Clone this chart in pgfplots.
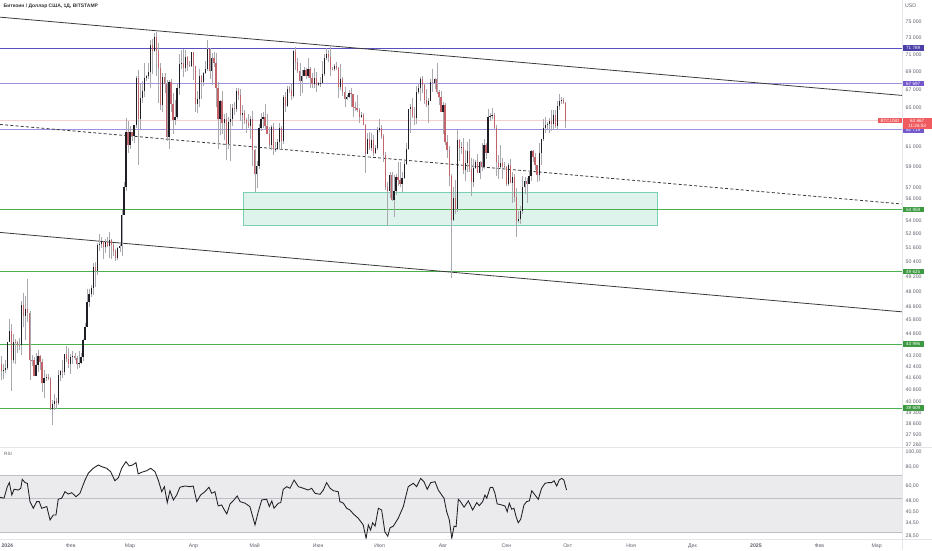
\documentclass[border=0pt]{standalone}
\usepackage{pgfplots}
\pgfplotsset{compat=1.18}
\usepackage{pgfplotstable}
\usepackage{fontspec}
\setmainfont{Liberation Sans}
\definecolor{bull}{HTML}{1E1E24}
\definecolor{bear}{HTML}{C4646A}
\definecolor{wick}{HTML}{A8A8AE}
\definecolor{trend}{HTML}{3A3A3A}
\definecolor{purpD}{HTML}{5A4FC0}
\definecolor{purpL}{HTML}{9D90DE}
\definecolor{tagPD}{HTML}{4A40A8}
\definecolor{tagP}{HTML}{7458CC}
\definecolor{grn}{HTML}{4CAF50}
\definecolor{tagG}{HTML}{3D9A41}
\definecolor{zoneF}{HTML}{DDF3EC}
\definecolor{zoneL}{HTML}{7ACFB6}
\definecolor{tagR}{HTML}{EF5B5F}
\definecolor{pline}{HTML}{F6D0D1}
\definecolor{scale}{HTML}{5D606B}
\definecolor{sep}{HTML}{E3E5EB}
\definecolor{band}{HTML}{EBEBED}
\definecolor{bandl}{HTML}{BDBFC6}
\newcommand\tf{\fontsize{5.2}{6}\selectfont}
\newcommand\tg{\fontsize{4.6}{5}\selectfont}

\pgfplotstableread{
d o h l c
-3 42580 43130 41450 42070
-2 42070 42600 41520 42140
-1 42140 42890 41970 42280
0 42280 44180 42200 44180
1 44180 45900 44150 44950
2 44950 45500 40750 42850
3 42850 44760 42630 44180
4 44180 44350 42600 44160
5 44160 44220 43400 43970
6 43970 44480 43600 43930
7 43930 47230 43200 46970
8 46970 47900 45250 46120
9 46120 47650 44330 46660
10 46660 48970 45650 46340
11 46340 46500 41500 42850
12 42850 43250 42450 42840
13 42840 43050 41720 41730
14 41730 43390 41720 42510
15 42510 43570 42060 43150
16 43150 43200 42200 42740
17 42740 42930 40680 41260
18 41260 42170 40270 41620
19 41620 41870 41420 41660
20 41660 41860 41500 41570
21 41570 41650 39450 39520
22 39520 40130 38500 39850
23 39850 40520 39500 40080
24 40080 40280 39530 39930
25 39930 42200 39820 41810
26 41810 42200 41400 42120
27 42120 42840 41630 42030
28 42030 43310 41800 43300
29 43300 43880 42700 42940
30 42940 43750 42300 42570
31 42570 43280 41880 43080
32 43080 43480 42600 43180
33 43180 43380 42880 43010
34 43010 43120 42270 42580
35 42580 43520 42320 42660
36 42660 43400 42580 43090
37 43090 44380 42770 44330
38 44330 45600 44330 45300
39 45300 48170 45240 47150
40 47150 48170 46800 47770
41 47770 48560 47560 48290
42 48290 50330 47700 49960
43 49960 50370 48350 49700
44 49700 52040 49300 51800
45 51800 52820 51330 51940
46 51940 52570 51620 52160
47 52160 52200 50660 51660
48 51660 52350 51170 52120
49 52120 52490 51700 51780
50 51780 52960 50700 52260
51 52260 52370 50670 51850
52 51850 52020 50920 51320
53 51320 51540 50510 50730
54 50730 51690 50580 51570
55 51570 51960 51280 51730
56 51730 54920 50920 54480
57 54480 57560 54440 57050
58 57050 64000 56700 62500
59 62500 63680 60400 61190
60 61190 63150 60800 62440
61 62440 62450 61600 62030
62 62030 63200 61340 63170
63 63170 68600 62880 68330
64 68330 69200 59200 63800
65 63800 67640 62800 66100
66 66100 67990 65570 66900
67 66900 69990 66200 68300
68 68300 68630 67980 68500
69 68500 70000 68250 69020
70 69020 72800 67200 72120
71 72120 72920 68800 71480
72 71480 73650 71340 73080
73 73080 73780 68600 71400
74 71400 72400 65600 69430
75 69430 70050 64800 65300
76 65300 68850 64600 68390
77 68390 68900 66600 67610
78 67610 68100 61600 61930
79 61930 68100 60780 67860
80 67860 68200 64600 65490
81 65490 66600 62300 63780
82 63780 65900 63250 64060
83 64060 67600 63800 67230
84 67230 71100 66400 69960
85 69960 71500 69300 69990
86 69990 71700 68400 69450
87 69450 71500 68950 70780
88 70780 70900 69100 69860
89 69860 70300 69600 69640
90 69640 71330 69600 71330
91 71330 71330 68100 69700
92 69700 69700 64600 65450
93 65450 66900 64500 65980
94 65980 69300 65080 68500
95 68500 68700 66000 67840
96 67840 69000 67450 68900
97 68900 70300 68800 69360
98 69360 72750 69100 71620
99 71620 71750 68200 69140
100 69140 71200 67500 70590
101 70590 71300 69570 70060
102 70060 71250 65100 67200
103 67200 67900 60800 63820
104 63820 65850 62150 65740
105 65740 66900 62300 63420
106 63420 64350 61700 63810
107 63810 64450 59700 61280
108 61280 64100 60800 63510
109 63510 65450 59600 63840
110 63840 65400 63100 64990
111 64990 65700 64300 64930
112 64930 67200 64550 66840
113 66840 67200 65850 66410
114 66410 67050 63650 64290
115 64290 65300 62800 64500
116 64500 64800 63300 63760
117 63760 63920 62400 63420
118 63420 64350 62850 63110
119 63110 64200 61800 63840
120 63840 64700 59100 60640
121 60640 60800 56550 58250
122 58250 59600 56950 59120
123 59120 63300 58800 62890
124 62890 64500 62600 63890
125 63890 64600 62900 64030
126 64030 65500 62750 63160
127 63160 64400 62300 62330
128 62330 62990 60900 61190
129 61190 63250 60650 63050
130 63050 63450 60200 60790
131 60790 61450 60500 60800
132 60800 61800 60650 61460
133 61460 63400 60800 62900
134 62900 63100 60800 61550
135 61550 66400 61300 66260
136 66260 66700 64600 65230
137 65230 67400 65100 67050
138 67050 67400 66650 66940
139 66940 67650 65850 66270
140 66270 71500 66100 71450
141 71450 71950 69200 70140
142 70140 70650 68850 69120
143 69120 70050 66300 67930
144 67930 69200 66650 68530
145 68530 69550 68500 69260
146 69260 69500 68250 68500
147 68500 70600 68300 69390
148 69390 69550 67250 68360
149 68360 68900 67150 67630
150 67630 69500 67150 68350
151 68350 69000 66700 67490
152 67490 67850 67450 67710
153 67710 68400 67300 67750
154 67750 70250 67600 68800
155 68800 71050 68550 70570
156 70570 71750 70400 71080
157 71080 71600 70150 70790
158 70790 71950 68500 69340
159 69340 69550 69200 69300
160 69300 69900 69150 69640
161 69640 70150 69250 69510
162 69510 69550 66100 67330
163 67330 69950 66950 68240
164 68240 68450 66300 66760
165 66760 67300 65100 66010
166 66010 66450 65850 66190
167 66190 66950 66050 66640
168 66640 67200 65100 66490
169 66490 66500 64100 65140
170 65140 65700 64700 64960
171 64960 66450 64550 64830
172 64830 65050 63400 64100
173 64100 64550 63950 64250
174 64250 64500 63200 63180
175 63180 63350 58400 60280
176 60280 62400 60250 61800
177 61800 62450 60700 60860
178 60860 62350 60600 61670
179 61670 62200 60050 60320
180 60320 61150 60280 60890
181 60890 63050 60650 62680
182 62680 63800 62450 62850
183 62850 63250 61800 62030
184 62030 62250 59500 60200
185 60200 60500 56800 57050
186 57050 57500 53500 56660
187 56660 58450 56050 58230
188 58230 58450 55750 55850
189 55850 58200 54300 56710
190 56710 58300 56300 58050
191 58050 59450 57200 57730
192 57730 59450 57100 57340
193 57340 58500 56600 57900
194 57900 59800 57800 59230
195 59230 61400 59200 60790
196 60790 64900 60650 64870
197 64870 65400 62400 65100
198 65100 66100 64000 64120
199 64120 65100 63250 63980
200 63980 67400 63300 66700
201 66700 67600 66500 67150
202 67150 68400 65800 68190
203 68190 68500 66600 67560
204 67560 67800 65450 65930
205 65930 67100 65100 65370
206 65370 66100 63450 65800
207 65800 68200 65750 67910
208 67910 69400 66700 67810
209 67810 68300 67050 68250
210 68250 70000 66500 66770
211 66770 66950 65300 66190
212 66190 66850 64550 64630
213 64630 65650 62300 65360
214 65360 65550 61200 61420
215 61420 62200 59850 60680
216 60680 61100 57200 58120
217 58120 58300 49050 53990
218 53990 57050 53950 56030
219 56030 57700 54600 55030
220 55030 62700 54750 61710
221 61710 61750 59600 60880
222 60880 61450 60300 60940
223 60940 61850 58300 58710
224 58710 60700 57650 59350
225 59350 61500 58450 60600
226 60600 61800 58450 58740
227 58740 59850 56200 57560
228 57560 59800 57100 58880
229 58880 59650 58800 59480
230 59480 60250 58450 58430
231 58430 59600 57850 59480
232 59480 61400 58600 59020
233 59020 61800 58800 61170
234 61170 61400 59800 60380
235 60380 64950 60350 64100
236 64100 64500 63600 64180
237 64180 65000 63800 64220
238 64220 64450 62800 62850
239 62850 63200 58100 59420
240 59420 60200 57850 59020
241 59020 61150 58800 59380
242 59380 59900 57850 59120
243 59120 59450 58750 58970
244 58970 59050 57200 57320
245 57320 59400 57150 59130
246 59130 59800 57450 57480
247 57480 58500 55600 57970
248 57970 58300 55700 56160
249 56160 56950 52550 53960
250 53960 54850 53750 54140
251 54140 55300 53650 54840
252 54840 58100 54600 57020
253 57020 58000 56400 57650
254 57650 57950 55550 57340
255 57340 58600 57350 58130
256 58130 60650 57650 60540
257 60540 60650 59500 60000
258 60000 60400 58700 59180
259 59180 59200 57500 58210
260 58210 61350 57650 60310
261 60310 61800 59200 61760
262 61760 63850 61600 62950
263 62950 64100 62400 63200
264 63200 63550 62800 63350
265 63350 64000 62400 63580
266 63580 64750 62600 63340
267 63340 64800 62700 64280
268 64280 64800 62950 63140
269 63140 65800 62700 65180
270 65180 66500 64850 65790
271 65790 66250 65450 65880
272 65880 66100 65450 65600
273 65600 65650 62900 63667
}\ohlc

\pgfplotstableread{
d r
-3.6 50.7
-1.6 50.0
0.0 59.4
1.0 63.1
2.2 52.4
3.3 57.1
5.4 56.5
6.6 58.0
7.3 66.3
8.7 63.1
9.8 62.5
11.1 47.5
12.7 43.0
14.4 47.5
15.6 47.5
16.8 43.0
19.3 44.1
20.9 36.1
22.5 38.9
23.8 38.9
24.9 49.2
26.6 50.0
28.2 55.1
29.8 53.2
31.5 54.3
33.6 51.1
35.5 53.8
38.0 65.6
39.6 72.6
42.0 78.2
44.5 82.2
46.1 80.2
48.6 78.2
50.5 74.4
52.6 64.9
54.3 67.9
55.9 78.2
58.0 86.4
59.6 81.0
61.3 82.2
62.9 85.1
64.0 71.9
65.7 73.7
68.1 75.4
70.1 78.2
72.2 74.4
73.8 65.6
75.5 55.1
76.8 59.4
78.2 46.8
79.5 55.9
81.2 48.7
82.8 52.4
84.4 58.9
86.9 60.0
89.3 59.4
90.9 60.0
92.6 47.5
94.5 52.4
96.6 55.1
98.6 58.9
99.9 53.8
101.5 55.1
103.1 44.5
104.8 45.2
105.9 42.4
107.3 39.5
108.9 45.9
110.8 48.7
112.4 51.7
113.8 47.5
116.2 46.4
118.6 44.1
121.1 33.5
122.7 40.8
124.4 48.7
126.8 49.2
128.1 44.1
129.3 48.0
130.4 43.0
132.5 46.4
133.7 46.8
134.9 57.1
136.6 59.4
138.2 58.0
140.2 65.6
142.3 59.4
144.7 58.0
147.1 56.5
148.8 58.0
150.4 53.8
152.9 53.0
154.5 56.5
156.1 63.1
157.8 58.0
159.4 55.9
161.8 55.1
162.6 47.5
164.3 46.4
165.9 43.0
167.5 41.9
169.2 39.5
171.6 37.0
174.0 33.5
175.4 27.4
176.5 33.5
177.6 31.0
178.6 34.6
179.8 32.9
181.4 43.0
183.0 41.9
184.6 30.2
186.0 28.3
187.1 32.1
188.7 32.9
191.1 37.0
193.6 44.1
196.0 59.4
198.5 62.5
200.1 59.4
202.1 67.3
203.7 64.0
205.3 57.1
207.0 63.1
209.1 64.0
210.7 56.5
212.4 52.4
213.5 50.0
214.8 40.8
216.1 36.1
217.3 27.4
218.4 32.9
219.4 32.6
220.5 49.2
221.3 48.0
223.3 43.7
225.4 48.0
227.5 41.9
229.5 46.8
230.7 44.7
232.4 47.5
233.5 52.4
234.4 50.0
236.0 58.5
237.3 58.9
238.4 53.8
239.5 45.9
241.7 45.2
243.3 44.5
244.4 40.8
245.4 46.4
246.6 42.4
247.7 43.0
248.7 38.0
249.8 34.6
251.0 36.5
252.6 45.2
253.9 47.5
255.2 48.0
256.4 55.9
258.0 52.4
259.6 49.2
261.2 58.0
262.9 62.5
264.5 63.1
266.1 63.1
267.3 64.9
268.6 60.0
269.8 65.6
271.0 67.3
272.1 65.6
273.4 56.5
}\rsi

\begin{document}
\begin{tikzpicture}
\useasboundingbox (0,0) rectangle (932pt,550pt);

% ---------------- price pane ----------------
\begin{axis}[
  at={(0pt,103pt)}, anchor=south west,
  scale only axis, width=902pt, height=447pt,
  xmin=-3.57, xmax=437.4,
  ymode=log, ymin=37135, ymax=77739,
  axis line style={draw=none},
  tick style={draw=none}, major tick length=0pt, minor tick length=0pt,
  xtick=\empty,
  ytick={75000,73000,71000,69000,67000,65000,61000,59000,57000,56000,54000,52800,51600,50400,49200,48000,46800,45800,44800,43200,42400,41600,40800,40000,39300,38600,37920,37260},
  yticklabels={75 000,73 000,71 000,69 000,67 000,65 000,61 000,59 000,57 000,56 000,54 000,52 800,51 600,50 400,49 200,48 000,46 800,45 800,44 800,43 200,42 400,41 600,40 800,40 000,39 300,38 600,37 920,37 260},
  yticklabel pos=right,
  yticklabel style={font=\tf, text=scale, inner sep=0pt, anchor=west, xshift=3.5pt},
  clip mode=individual,
]
% demand zone
\addplot[forget plot, fill=zoneF, draw=zoneL, line width=0.6pt] coordinates {(115.4,53585) (317.6,53585) (317.6,56560) (115.4,56560) (115.4,53585)};
% horizontal levels
\addplot[forget plot, purpD, line width=0.8pt] coordinates {(-10,71789) (450,71789)};
\addplot[forget plot, purpL, line width=0.8pt] coordinates {(-10,67697) (450,67697)};
\addplot[forget plot, purpL, line width=0.8pt] coordinates {(-10,62719) (450,62719)};
\addplot[forget plot, pline, line width=0.5pt] coordinates {(-10,63667) (450,63667)};
\addplot[forget plot, grn, line width=0.7pt] coordinates {(-10,54959) (450,54959)};
\addplot[forget plot, grn, line width=0.7pt] coordinates {(-10,49625) (450,49625)};
\addplot[forget plot, grn, line width=0.7pt] coordinates {(-10,43996) (450,43996)};
\addplot[forget plot, grn, line width=0.7pt] coordinates {(-10,39609) (450,39609)};
% channel
\addplot[forget plot, trend, line width=0.8pt] coordinates {(-3.57,75545) (437.4,66384)};
\addplot[forget plot, trend, line width=0.8pt, dash pattern=on 3pt off 2.2pt] coordinates {(-3.57,63270) (437.4,55476)};
\addplot[forget plot, trend, line width=0.8pt] coordinates {(-3.57,52930) (437.4,46420)};
% candles: wicks
\addplot[forget plot, draw=none, mark=none,
  error bars/.cd, y dir=plus, y explicit, error mark=none,
  error bar style={draw=wick, line width=0.55pt}]
  table[x=d, y=l, y error plus expr={\thisrow{h}-\thisrow{l}}] {\ohlc};
% bodies up
\addplot[forget plot, draw=none, mark=none, unbounded coords=discard,
  error bars/.cd, y dir=plus, y explicit, error mark=none,
  error bar style={draw=bull, line width=1.25pt, line cap=butt}]
  table[x=d, y expr={\thisrow{c}>=\thisrow{o} ? \thisrow{o} : nan}, y error plus expr={\thisrow{c}-\thisrow{o}}] {\ohlc};
% bodies down
\addplot[forget plot, draw=none, mark=none, unbounded coords=discard,
  error bars/.cd, y dir=plus, y explicit, error mark=none,
  error bar style={draw=bear, line width=1.25pt, line cap=butt}]
  table[x=d, y expr={\thisrow{c}<\thisrow{o} ? \thisrow{c} : nan}, y error plus expr={\thisrow{o}-\thisrow{c}}] {\ohlc};
% price tags
\tikzset{tag/.style={anchor=west, text=white, font=\tg, inner sep=0pt, minimum width=22pt, minimum height=5.6pt}}
\node[tag, fill=tagPD] at (axis cs:437.4,71789) {71 789};
\node[tag, fill=tagP] at (axis cs:437.4,67697) {67 697};
\node[tag, fill=tagP] at (axis cs:437.4,62719) {62 719};
\node[tag, fill=tagG] at (axis cs:437.4,54959) {54 959};
\node[tag, fill=tagG] at (axis cs:437.4,49625) {49 625};
\node[tag, fill=tagG] at (axis cs:437.4,43996) {43 996};
\node[tag, fill=tagG] at (axis cs:437.4,39609) {39 609};
\node[anchor=east, text=white, font=\tg, inner sep=0pt, minimum width=23.5pt, minimum height=5.4pt, fill=tagR] at (axis cs:437.4,63667) {BTCUSD};
\node[anchor=north west, text=white, font=\tg, inner sep=0.4pt, minimum width=30pt, minimum height=10.5pt, fill=tagR, align=center, yshift=2.7pt] at (axis cs:437.4,63667) {63 667\\[-0.6pt]11:26:53};
\end{axis}

% ---------------- RSI pane ----------------
\begin{axis}[
  at={(0pt,11pt)}, anchor=south west,
  scale only axis, width=902pt, height=91pt,
  xmin=-3.57, xmax=437.4,
  ymode=log, ymin=27.14, ymax=105.98,
  axis line style={draw=none},
  tick style={draw=none}, major tick length=0pt, minor tick length=0pt,
  xtick={0,31,60,91,121,152,182,213,244,274,305,335,366,397,425},
  xticklabels={\textbf{2024},Фев,Мар,Апр,Май,Июн,Июл,Авг,Сен,Окт,Ноя,Дек,\textbf{2025},Фев,Мар},
  xticklabel style={font=\tf, text=scale, inner sep=0pt, anchor=north, yshift=-4.3pt},
  ytick={100,80,60,48,40.5,34.5,28.5},
  yticklabels={{100,00},{80,00},{60,00},{48,00},{40,50},{34,50},{28,50}},
  yticklabel pos=right,
  yticklabel style={font=\tf, text=scale, inner sep=0pt, anchor=west, xshift=3.5pt},
  clip mode=individual,
]
\addplot[forget plot, draw=none, fill=band] coordinates {(-10,30) (450,30) (450,70) (-10,70)};
\addplot[forget plot, bandl, line width=0.6pt] coordinates {(-10,70) (450,70)};
\addplot[forget plot, bandl, line width=0.6pt] coordinates {(-10,30) (450,30)};
\addplot[forget plot, bandl, line width=0.5pt] coordinates {(-10,50) (450,50)};
\addplot[forget plot, bull, line width=0.85pt] table[x=d, y=r] {\rsi};
\end{axis}

% separators and captions
\draw[sep, line width=0.6pt] (0,102.5pt) -- (932pt,102.5pt);
\draw[sep, line width=0.6pt] (0,11pt) -- (932pt,11pt);
\draw[sep, line width=0.6pt] (902pt,0) -- (902pt,550pt);
\node[anchor=west, font=\fontsize{5}{6}\selectfont\bfseries, text=black!80, inner sep=0pt] at (3.5pt,544pt) {Биткоин / Доллар США, 1Д, BITSTAMP};
\node[anchor=west, font=\tf, text=scale, inner sep=0pt] at (905pt,544pt) {USD};
\node[anchor=west, font=\fontsize{4.6}{5}\selectfont, text=scale, inner sep=0pt] at (4pt,96pt) {RSI};
\end{tikzpicture}
\end{document}
